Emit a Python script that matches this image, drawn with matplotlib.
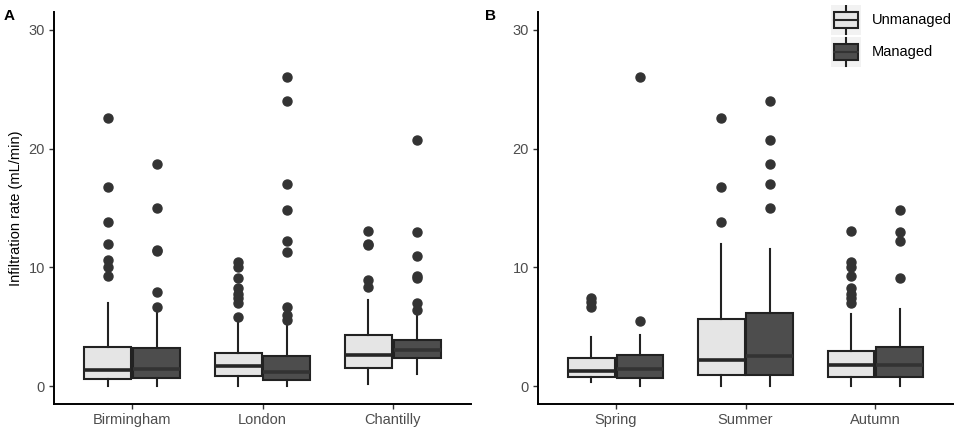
import numpy as np
import matplotlib
matplotlib.use("Agg")
from matplotlib import pyplot as plt
from matplotlib.patches import Rectangle

plt.rcParams['font.family'] = ['Liberation Sans', 'DejaVu Sans']

# panel A: sites
sites = ["Birmingham", "London", "Chantilly"]
# panel B: seasons
seasons = ["Spring", "Summer", "Autumn"]
groups = ["Unmanaged", "Managed"]

# box stats per category: [whislo, q1, med, q3, whishi]
site_unmanaged = [[0.0, 0.59, 1.40, 3.28, 7.0],
                  [0.0, 0.87, 1.74, 2.80, 5.4],
                  [0.22, 1.57, 2.66, 4.29, 7.28]]
site_managed = [[0.0, 0.70, 1.48, 3.19, 6.3],
                [0.0, 0.48, 1.23, 2.52, 5.4],
                [1.06, 2.38, 3.08, 3.92, 5.9]]
site_unmanaged_out = [[22.6, 16.8, 13.8, 12.0, 10.6, 10.0, 9.3],
                      [10.45, 10.0, 9.1, 8.3, 7.8, 7.4, 7.0, 5.8],
                      [13.05, 12.0, 11.85, 8.9, 8.35]]
site_managed_out = [[18.7, 15.0, 11.5, 11.4, 7.9, 6.7],
                    [26.0, 24.0, 17.0, 14.8, 12.2, 11.3, 6.7, 6.0, 5.6],
                    [20.75, 13.0, 11.0, 9.3, 9.1, 7.0, 6.4]]

season_unmanaged = [[0.34, 0.78, 1.29, 2.35, 4.15],
                    [0.0, 0.98, 2.18, 5.69, 11.93],
                    [0.0, 0.78, 1.82, 3.00, 6.1]]
season_managed = [[0.0, 0.70, 1.46, 2.60, 4.29],
                  [0.0, 0.90, 2.55, 6.19, 11.57],
                  [0.0, 0.78, 1.76, 3.28, 6.5]]
season_unmanaged_out = [[7.4, 7.1, 6.7],
                        [22.6, 16.8, 13.8],
                        [13.05, 10.45, 10.0, 9.24, 8.3, 7.8, 7.4, 7.0]]
season_managed_out = [[26.0, 5.5],
                      [24.0, 20.75, 18.74, 17.0, 15.0],
                      [14.8, 13.0, 12.2, 9.13]]

yticks = [0, 10, 20, 30]

fill_colors = {"Unmanaged": "#E5E5E5", "Managed": "#4D4D4D"}
median_colors = {"Unmanaged": "#262626", "Managed": "#333333"}
edge = "#222222"


def make_stats(box, fliers):
    return [dict(whislo=b[0], q1=b[1], med=b[2], q3=b[3], whishi=b[4], fliers=f)
            for b, f in zip(box, fliers)]


def draw_panel(ax, cats, unm, unm_out, man, man_out):
    pos = np.arange(1, len(cats) + 1)
    for name, box, out, off in [("Unmanaged", unm, unm_out, -0.1875),
                                ("Managed", man, man_out, 0.1875)]:
        ax.bxp(make_stats(box, out), positions=pos + off, widths=0.36,
               patch_artist=True, showcaps=False,
               boxprops=dict(facecolor=fill_colors[name], edgecolor=edge, linewidth=1.5),
               medianprops=dict(color=median_colors[name], linewidth=2.6, solid_capstyle='butt'),
               whiskerprops=dict(color=edge, linewidth=1.5),
               flierprops=dict(marker='o', markerfacecolor='#333333',
                               markeredgecolor='#333333', markersize=6.5))
    ax.set_xlim(0.4, len(cats) + 0.6)
    ax.set_ylim(-1.5, 31.5)
    ax.set_xticks(pos)
    ax.set_xticklabels(cats)
    ax.set_yticks(yticks)
    for s in ['top', 'right']:
        ax.spines[s].set_visible(False)
    for s in ['left', 'bottom']:
        ax.spines[s].set_linewidth(1.4)
        ax.spines[s].set_color('black')
    ax.tick_params(axis='both', colors='#333333', labelcolor='#4D4D4D',
                   labelsize=10.5, length=3.5, width=1.0, direction='out', pad=3)


fig = plt.figure(figsize=(9.57, 4.34), dpi=100)
W, H = 957.0, 434.0
axA = fig.add_axes([54 / W, 1 - 404 / H, (471 - 54) / W, (404 - 12) / H])
axB = fig.add_axes([538 / W, 1 - 404 / H, (953 - 538) / W, (404 - 12) / H])

draw_panel(axA, sites, site_unmanaged, site_unmanaged_out, site_managed, site_managed_out)
draw_panel(axB, seasons, season_unmanaged, season_unmanaged_out, season_managed, season_managed_out)

axA.set_ylabel("Infiltration rate (mL/min)", fontsize=10.5, color='black', labelpad=4)

fig.text(4 / W, 1 - 16 / H, "A", fontsize=11, fontweight='bold', va='center', ha='left')
fig.text(485 / W, 1 - 16 / H, "B", fontsize=11, fontweight='bold', va='center', ha='left')

# legend keys drawn as mini boxplots
leg = fig.add_axes([831 / W, 1 - 68 / H, 30 / W, 63 / H])
leg.set_xlim(0, 30)
leg.set_ylim(63, 0)
leg.axis('off')
for i, name in enumerate(groups):
    y0 = i * 32
    leg.add_patch(Rectangle((0, y0), 30, 30, facecolor='#F2F2F2', edgecolor='none'))
    leg.plot([15, 15], [y0 + 1, y0 + 29], color=edge, lw=1.5)
    leg.add_patch(Rectangle((3, y0 + 7), 24, 16, facecolor=fill_colors[name],
                            edgecolor=edge, lw=1.5, zorder=3))
    leg.plot([3, 27], [y0 + 15, y0 + 15], color=median_colors[name], lw=1.5, zorder=4)
    fig.text(872 / W, 1 - (y0 + 20) / H, name, fontsize=10.5, va='center', ha='left')

fig.savefig("out.png", dpi=100)
